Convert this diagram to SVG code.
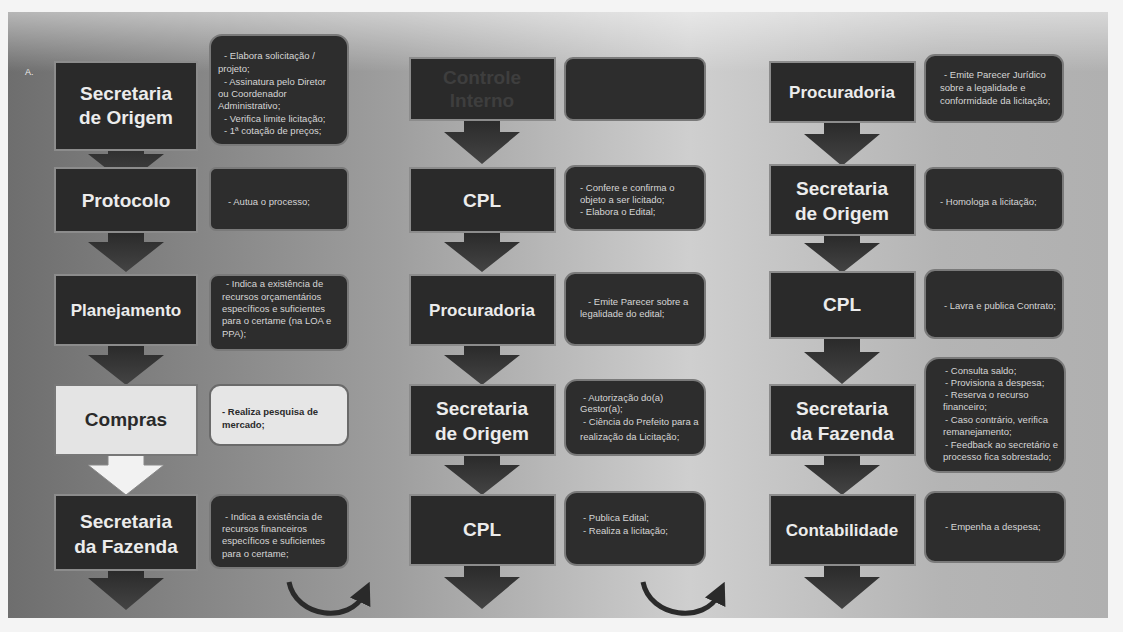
<svg xmlns="http://www.w3.org/2000/svg" width="1123" height="632" viewBox="0 0 1123 632">
<defs>
<linearGradient id="bg" x1="0" y1="0" x2="1" y2="0">
<stop offset="0" stop-color="#6e6e6e"/>
<stop offset="0.35" stop-color="#9e9e9e"/>
<stop offset="0.62" stop-color="#cfcfcf"/>
<stop offset="0.85" stop-color="#b4b4b4"/>
<stop offset="1" stop-color="#b0b0b0"/>
</linearGradient>
<linearGradient id="topfade" x1="0" y1="0" x2="0" y2="1">
<stop offset="0" stop-color="#ffffff" stop-opacity="0.5"/>
<stop offset="1" stop-color="#ffffff" stop-opacity="0"/>
</linearGradient>
<linearGradient id="arr" x1="0" y1="0" x2="0" y2="1">
<stop offset="0" stop-color="#2a2a2a"/>
<stop offset="1" stop-color="#444"/>
</linearGradient>
<marker id="curvehead" viewBox="0 0 10 10" refX="4" refY="5" markerWidth="4.5" markerHeight="4.5" orient="auto">
<path d="M0,0 L10,5 L0,10 z" fill="#2a2a2a"/>
</marker>
</defs>
<style>
.box{fill:#2a2a2a;stroke:#8c8c8c;stroke-width:2}
.lbox{fill:#e4e4e4;stroke:#777;stroke-width:2}
.note{fill:#2d2d2d;stroke:#7a7a7a;stroke-width:2}
.lnote{fill:#e6e6e6;stroke:#6a6a6a;stroke-width:2}
.t{font-family:"Liberation Sans",Arial,sans-serif;font-weight:bold;font-size:19px;fill:#ececec;text-anchor:middle}
.td{fill:#2a2a2a}
.n{font-family:"Liberation Sans",Arial,sans-serif;font-size:9.5px;fill:#d6d6d6}
.nd{fill:#2a2a2a;font-weight:bold}
.ar{fill:url(#arr)}
.war{fill:#f2f2f2;stroke:#888;stroke-width:1}
.curve{fill:none;stroke:#2a2a2a;stroke-width:5}
</style>
<rect x="0" y="0" width="1123" height="632" fill="#f4f4f4"/>
<rect x="8" y="12" width="1100" height="606" fill="url(#bg)"/>
<rect x="8" y="12" width="1100" height="60" fill="url(#topfade)"/>
<text x="25" y="75" style="font-family:'Liberation Sans',Arial,sans-serif;font-size:9px;fill:#eee">A.</text>

<g id="connectors">
<path class="ar" d="M108,140 h36 v14 h20 l-38,30 l-38,-30 h20 z"/>
<path class="ar" d="M108,232 h36 v10 h20 l-38,30 l-38,-30 h20 z"/>
<path class="ar" d="M108,345 h36 v10 h20 l-38,30 l-38,-30 h20 z"/>
<path class="war" d="M108,455 h36 v10 h20 l-38,30 l-38,-30 h20 z"/>
<path class="ar" d="M108,570 h36 v8 h20 l-38,32 l-38,-32 h20 z"/>
<path class="ar" d="M464,118 h36 v14 h20 l-38,32 l-38,-32 h20 z"/>
<path class="ar" d="M464,232 h36 v10 h20 l-38,30 l-38,-30 h20 z"/>
<path class="ar" d="M464,345 h36 v10 h20 l-38,30 l-38,-30 h20 z"/>
<path class="ar" d="M464,455 h36 v10 h20 l-38,30 l-38,-30 h20 z"/>
<path class="ar" d="M464,565 h36 v12 h20 l-38,32 l-38,-32 h20 z"/>
<path class="ar" d="M824,122 h36 v12 h20 l-38,32 l-38,-32 h20 z"/>
<path class="ar" d="M824,235 h36 v8 h20 l-38,30 l-38,-30 h20 z"/>
<path class="ar" d="M824,338 h36 v14 h20 l-38,32 l-38,-32 h20 z"/>
<path class="ar" d="M824,455 h36 v10 h20 l-38,30 l-38,-30 h20 z"/>
<path class="ar" d="M824,565 h36 v12 h20 l-38,32 l-38,-32 h20 z"/>
<path class="curve" d="M289,582 C296,618 350,624 364,594" marker-end="url(#curvehead)"/>
<path class="curve" d="M643,582 C650,618 705,624 719,594" marker-end="url(#curvehead)"/>
</g>

<g id="n-sec-origem-1">
<rect class="box" x="55" y="62" width="142" height="88"/>
<text class="t" x="126" y="100">Secretaria</text>
<text class="t" x="126" y="124">de Origem</text>
<rect class="note" x="210" y="35" width="138" height="110" rx="12"/>
<text class="n" x="224" y="59">- Elabora solicitação /</text>
<text class="n" x="218" y="72">projeto;</text>
<text class="n" x="224" y="85">- Assinatura pelo Diretor</text>
<text class="n" x="218" y="97">ou Coordenador</text>
<text class="n" x="218" y="109">Administrativo;</text>
<text class="n" x="224" y="122">- Verifica limite licitação;</text>
<text class="n" x="224" y="134">- 1ª cotação de preços;</text>
</g>

<g id="n-protocolo">
<rect class="box" x="55" y="168" width="142" height="64"/>
<text class="t" x="126" y="207">Protocolo</text>
<rect class="note" x="210" y="168" width="138" height="62" rx="6"/>
<text class="n" x="228" y="205">- Autua o processo;</text>
</g>

<g id="n-planejamento">
<rect class="box" x="55" y="275" width="142" height="70"/>
<text class="t" x="126" y="316" style="font-size:17px">Planejamento</text>
<rect class="note" x="210" y="275" width="138" height="75" rx="8"/>
<text class="n" x="226" y="287">- Indica a existência  de</text>
<text class="n" x="222" y="300">recursos orçamentários</text>
<text class="n" x="222" y="312">específicos e suficientes</text>
<text class="n" x="222" y="324">para o certame (na LOA e</text>
<text class="n" x="222" y="337">PPA);</text>
</g>

<g id="n-compras">
<rect class="lbox" x="55" y="385" width="142" height="70"/>
<text class="t td" x="126" y="426">Compras</text>
<rect class="lnote" x="210" y="385" width="138" height="60" rx="10"/>
<text class="n nd" x="222" y="415">- Realiza pesquisa de</text>
<text class="n nd" x="222" y="428">mercado;</text>
</g>

<g id="n-sec-fazenda-1">
<rect class="box" x="55" y="495" width="142" height="75"/>
<text class="t" x="126" y="528">Secretaria</text>
<text class="t" x="126" y="553">da Fazenda</text>
<rect class="note" x="210" y="495" width="138" height="73" rx="10"/>
<text class="n" x="225" y="520">- Indica a existência  de</text>
<text class="n" x="222" y="532">recursos financeiros</text>
<text class="n" x="222" y="544">específicos e suficientes</text>
<text class="n" x="222" y="557">para o certame;</text>
</g>

<g id="n-controle">
<rect class="box" x="410" y="58" width="145" height="62"/>
<text class="t" x="482" y="84" style="fill:#3e3e3e">Controle</text>
<text class="t" x="482" y="107" style="fill:#3e3e3e">Interno</text>
<rect class="note" x="565" y="58" width="140" height="62" rx="8"/>
</g>

<g id="n-cpl-1">
<rect class="box" x="410" y="168" width="145" height="64"/>
<text class="t" x="482" y="207">CPL</text>
<rect class="note" x="565" y="166" width="140" height="64" rx="10"/>
<text class="n" x="580" y="191">- Confere e confirma o</text>
<text class="n" x="580" y="203">objeto a ser licitado;</text>
<text class="n" x="580" y="215">- Elabora o Edital;</text>
</g>

<g id="n-procuradoria-1">
<rect class="box" x="410" y="275" width="145" height="70"/>
<text class="t" x="482" y="316" style="font-size:17px">Procuradoria</text>
<rect class="note" x="565" y="273" width="140" height="72" rx="10"/>
<text class="n" x="588" y="305">- Emite Parecer sobre a</text>
<text class="n" x="580" y="317">legalidade do edital;</text>
</g>

<g id="n-sec-origem-2">
<rect class="box" x="410" y="385" width="145" height="70"/>
<text class="t" x="482" y="415">Secretaria</text>
<text class="t" x="482" y="440">de Origem</text>
<rect class="note" x="565" y="380" width="140" height="75" rx="12"/>
<text class="n" x="583" y="401">- Autorização do(a)</text>
<text class="n" x="580" y="412">Gestor(a);</text>
<text class="n" x="583" y="425">- Ciência do Prefeito para a</text>
<text class="n" x="580" y="440">realização da Licitação;</text>
</g>

<g id="n-cpl-2">
<rect class="box" x="410" y="495" width="145" height="70"/>
<text class="t" x="482" y="536">CPL</text>
<rect class="note" x="565" y="492" width="140" height="73" rx="12"/>
<text class="n" x="583" y="521">- Publica Edital;</text>
<text class="n" x="583" y="534">- Realiza a licitação;</text>
</g>

<g id="n-procuradoria-2">
<rect class="box" x="770" y="62" width="145" height="60"/>
<text class="t" x="842" y="98" style="font-size:17px">Procuradoria</text>
<rect class="note" x="925" y="55" width="138" height="67" rx="10"/>
<text class="n" x="944" y="78">- Emite Parecer Jurídico</text>
<text class="n" x="940" y="91">sobre a legalidade e</text>
<text class="n" x="940" y="104">conformidade da licitação;</text>
</g>

<g id="n-sec-origem-3">
<rect class="box" x="770" y="165" width="145" height="70"/>
<text class="t" x="842" y="195">Secretaria</text>
<text class="t" x="842" y="220">de Origem</text>
<rect class="note" x="925" y="168" width="138" height="62" rx="8"/>
<text class="n" x="940" y="205">- Homologa a licitação;</text>
</g>

<g id="n-cpl-3">
<rect class="box" x="770" y="272" width="145" height="66"/>
<text class="t" x="842" y="311">CPL</text>
<rect class="note" x="925" y="270" width="138" height="68" rx="10"/>
<text class="n" x="944" y="309">- Lavra e publica Contrato;</text>
</g>

<g id="n-sec-fazenda-2">
<rect class="box" x="770" y="385" width="145" height="70"/>
<text class="t" x="842" y="415">Secretaria</text>
<text class="t" x="842" y="440">da Fazenda</text>
<rect class="note" x="925" y="358" width="140" height="114" rx="14"/>
<text class="n" x="945" y="374">- Consulta saldo;</text>
<text class="n" x="945" y="386">- Provisiona a despesa;</text>
<text class="n" x="945" y="398">- Reserva o recurso</text>
<text class="n" x="943" y="410">financeiro;</text>
<text class="n" x="945" y="423">- Caso contrário, verifica</text>
<text class="n" x="943" y="435">remanejamento;</text>
<text class="n" x="945" y="448">- Feedback ao secretário e</text>
<text class="n" x="943" y="460">processo fica sobrestado;</text>
</g>

<g id="n-contabilidade">
<rect class="box" x="770" y="495" width="145" height="70"/>
<text class="t" x="842" y="536" style="font-size:17px">Contabilidade</text>
<rect class="note" x="925" y="492" width="140" height="70" rx="10"/>
<text class="n" x="945" y="530">- Empenha a despesa;</text>
</g>
</svg>
